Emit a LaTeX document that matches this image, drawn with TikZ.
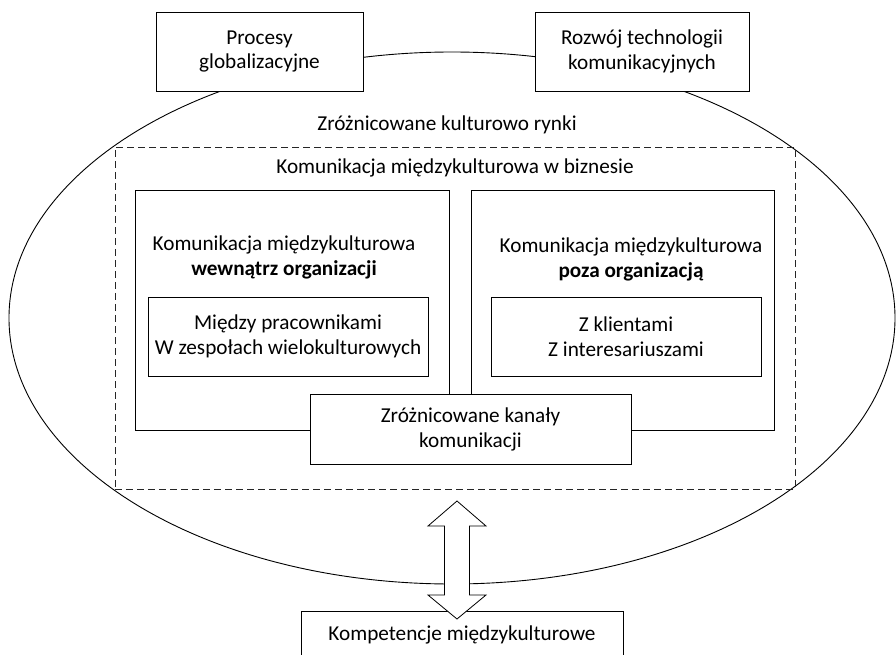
\documentclass[tikz,border=0pt]{standalone}
\usepackage{fontspec}
\setmainfont{Carlito}
\usetikzlibrary{shapes.geometric}
\begin{document}
\begin{tikzpicture}[x=1bp,y=-1bp,
  every node/.style={font=\fontsize{21.3}{25}\selectfont, inner sep=0pt},
  box/.style={draw=black, line width=0.8bp, fill=white, rectangle, align=center},
  txt/.style={align=center},
  dashbox/.style={draw=black!85, line width=0.8bp, dash pattern=on 7bp off 4bp, rectangle},
  bigarrow/.style={draw=black, line width=0.8bp, fill=white, line join=miter}]
\useasboundingbox (0,0) rectangle (896,655);
\begin{scope}
\clip (0,0) rectangle (896,655);

% outer market ellipse
\node[draw=black, line width=0.9bp, ellipse, minimum width=886bp, minimum height=532bp] (market) at (452,318) {};
\node[txt] (marketlbl) at (447,125) {Zróżnicowane kulturowo rynki};

% driving forces on top
\node[box, minimum width=207bp, minimum height=79bp] (glob) at (259.5,51.5) {Procesy\\globalizacyjne};
\node[box, minimum width=214bp, minimum height=79bp] (tech) at (642,51.5) {Rozwój technologii\\komunikacyjnych};

% business communication frame
\node[dashbox, minimum width=680bp, minimum height=342bp] (biz) at (455,318) {};
\node[txt] (bizlbl) at (455,168) {Komunikacja międzykulturowa w biznesie};

% internal communication
\node[box, minimum width=314bp, minimum height=240bp] (inside) at (292,310) {};
\node[txt] (insidelbl) at (284,257.5) {Komunikacja międzykulturowa\\\textbf{wewnątrz organizacji}};
\node[box, minimum width=280bp, minimum height=79bp] (staff) at (288,336.5) {Między pracownikami\\W zespołach wielokulturowych};

% external communication
\node[box, minimum width=303bp, minimum height=240bp] (outside) at (622.5,310) {};
\node[txt] (outsidelbl) at (631,259.5) {Komunikacja międzykulturowa\\\textbf{poza organizacją}};
\node[box, minimum width=270bp, minimum height=79bp] (clients) at (626,336.5) {Z klientami\\Z interesariuszami};

% channels
\node[box, minimum width=321bp, minimum height=70bp] (channels) at (470.5,429) {Zróżnicowane kanały\\komunikacji};

% competences
\node[box, minimum width=322bp, minimum height=80bp, anchor=north] (comp) at (462,611) {};
\node[txt] (complbl) at (462,635) {Kompetencje międzykulturowe};

% two-way arrow between the market and competences
\coordinate (atop) at (457,501);
\draw[bigarrow] (atop) -- ++(29,25) -- ++(-16.5,0) -- ++(0,69) -- ++(16.5,0)
  -- ++(-29,24) -- ++(-29,-24) -- ++(16.5,0) -- ++(0,-69) -- ++(-16.5,0) -- cycle;
\end{scope}
\end{tikzpicture}
\end{document}
